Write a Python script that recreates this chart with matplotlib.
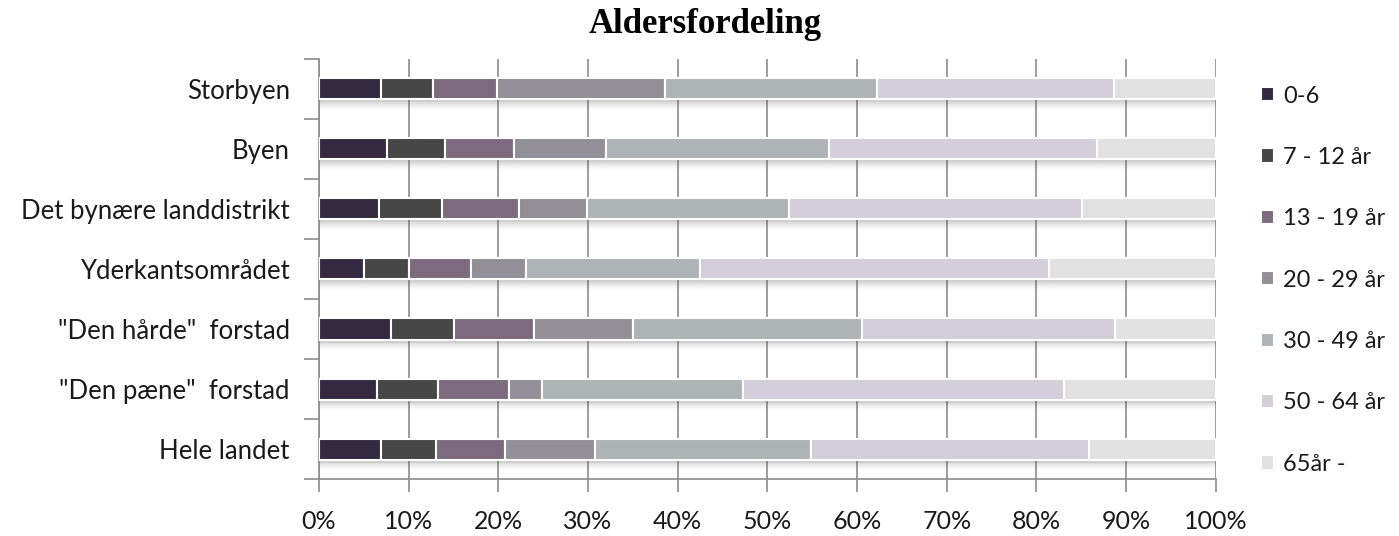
import matplotlib.pyplot as plt
import numpy as np

# Aldersfordeling per områdetype (andel i procent)
areas = ['Storbyen', 'Byen', 'Det bynære landdistrikt', 'Yderkantsområdet',
         '"Den hårde"  forstad', '"Den pæne"  forstad', 'Hele landet']
age_groups = ['0-6', '7 - 12 år', '13 - 19 år', '20 - 29 år',
              '30 - 49 år', '50 - 64 år', '65år -']

age_0_6 = [6.9, 7.6, 6.7, 5.0, 8.0, 6.5, 6.9]
age_7_12 = [5.8, 6.4, 7.0, 5.0, 7.1, 6.8, 6.1]
age_13_19 = [7.1, 7.7, 8.6, 6.9, 8.9, 7.9, 7.7]
age_20_29 = [18.8, 10.3, 7.6, 6.2, 11.0, 3.7, 10.1]
age_30_49 = [23.6, 24.9, 22.5, 19.4, 25.5, 22.4, 24.1]
age_50_64 = [26.5, 29.9, 32.7, 38.9, 28.3, 35.8, 31.0]
age_65 = [11.3, 13.2, 14.9, 18.6, 11.2, 16.9, 14.1]

series = [age_0_6, age_7_12, age_13_19, age_20_29, age_30_49, age_50_64, age_65]
colors = ['#352841', '#474747', '#7d6a7e', '#938f99', '#aeb4b5', '#d3ced9', '#e0e1e0']

label_font = 'Lato'
label_size = 18.5

fig = plt.figure(figsize=(13.99, 5.36), dpi=100)
ax = fig.add_axes([0.228, 0.1063, 0.641, 0.7837])

y = np.arange(len(areas))
totals = np.sum(series, axis=0)

# soft shadow under each bar
for k, a in enumerate([0.10, 0.08, 0.06, 0.04, 0.02]):
    ax.barh(y + 0.05 + 0.03 * k, totals, height=0.35, left=0, color='#505050',
            alpha=a, linewidth=0, zorder=2)

left = np.zeros(len(areas))
for vals, col, name in zip(series, colors, age_groups):
    ax.barh(y, vals, left=left, height=0.35, color=col, edgecolor='white',
            linewidth=1.5, label=name, zorder=3)
    left += np.array(vals)

ax.set_xlim(0, 100)
ax.set_ylim(len(areas) - 0.5, -0.5)
ax.set_xticks(np.arange(0, 101, 10))
ax.set_xticklabels([f'{v}%' for v in range(0, 101, 10)])
ax.set_yticks(y)
ax.set_yticklabels(areas)
ax.set_yticks(np.arange(-0.5, len(areas)), minor=True)
ax.tick_params(axis='y', which='major', length=0, pad=21, labelsize=label_size,
               labelcolor='#1a1a1a')
ax.tick_params(axis='y', which='minor', length=11, width=1.2, color='#8c8c8c')
ax.tick_params(axis='x', which='major', length=9, width=1.2, color='#8c8c8c', pad=13,
               labelsize=18, labelcolor='#1a1a1a')
for lab in ax.get_xticklabels() + ax.get_yticklabels():
    lab.set_fontfamily(label_font)

ax.grid(axis='x', color='#8c8c8c', linewidth=1.2, zorder=0)
ax.set_axisbelow(True)
for side in ['top', 'right']:
    ax.spines[side].set_visible(False)
for side in ['left', 'bottom']:
    ax.spines[side].set_color('#8c8c8c')
    ax.spines[side].set_linewidth(1.2)

fig.text(0.504, 0.938, 'Aldersfordeling', ha='center', va='baseline',
         fontfamily='Liberation Serif', fontweight='bold', fontsize=25)

leg = fig.legend(loc='upper left', bbox_to_anchor=(0.886, 0.88), frameon=False,
                 handlelength=0.55, handleheight=0.55, handletextpad=0.4,
                 labelspacing=1.71, prop={'family': label_font, 'size': 17})
for t in leg.get_texts():
    t.set_color('#1a1a1a')

fig.savefig('out.png', dpi=100)
